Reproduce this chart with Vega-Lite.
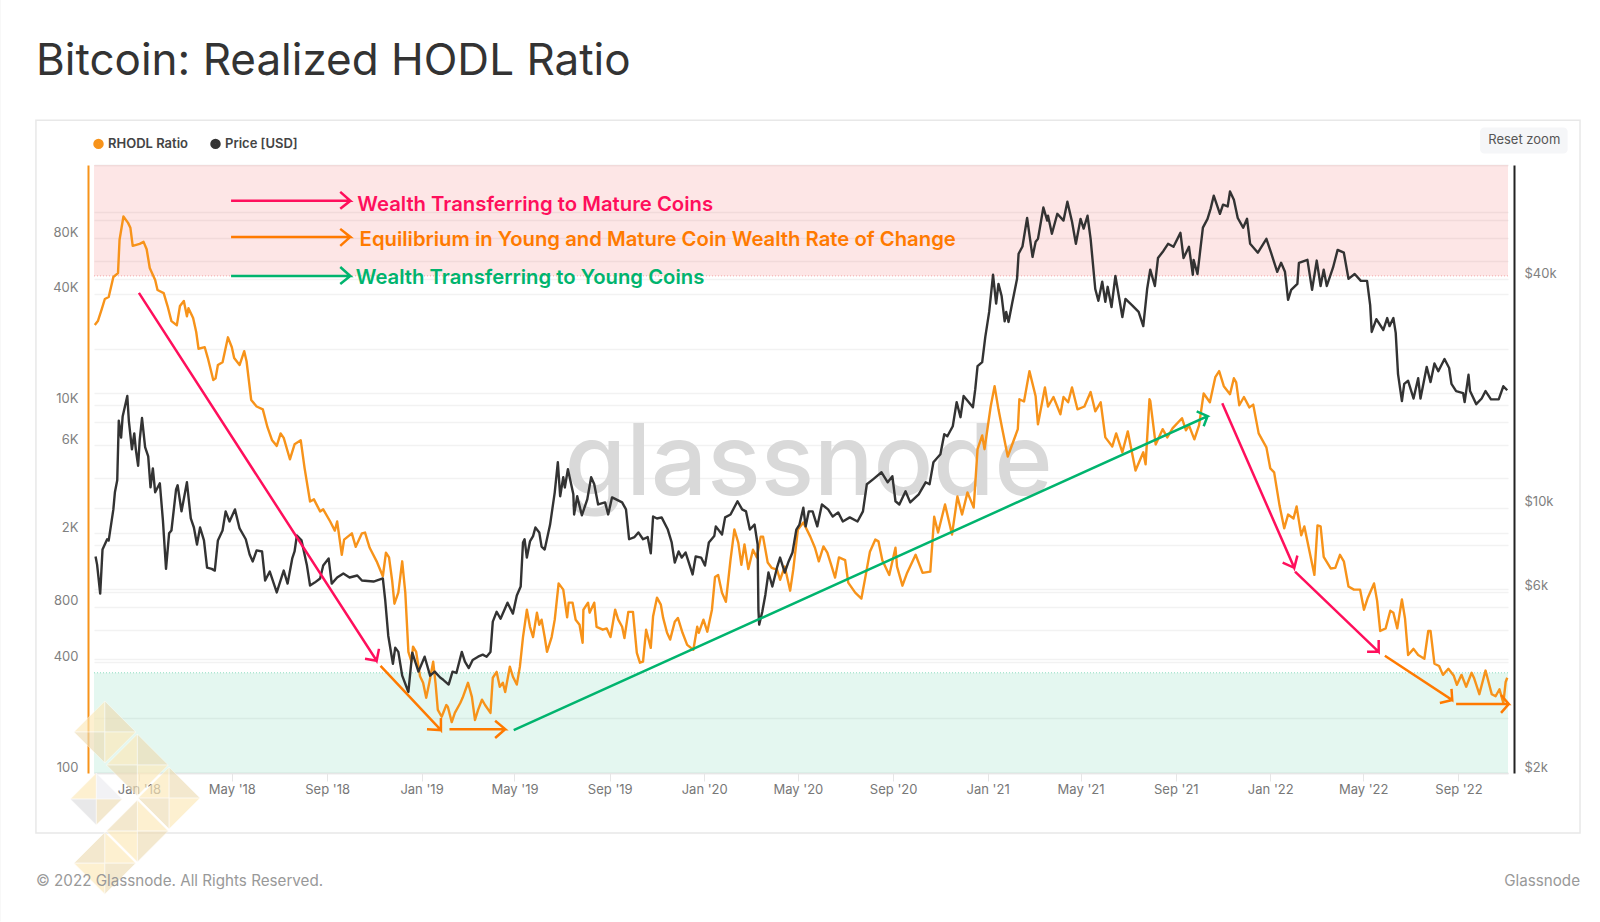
{
"$schema":"https://vega.github.io/schema/vega-lite/v6.json",
"width":1414,"height":608,"autosize":"none","padding":{"left":94,"top":165,"right":92,"bottom":149},"background":"#ffffff",
"title":{"text":"Bitcoin: Realized HODL Ratio","anchor":"start","frame":"group","dx":-58,"dy":120,"offset":0,"font":"Inter","fontSize":44,"fontWeight":400,"color":"#333333","baseline":"alphabetic"},
"config":{"view":{"stroke":null}},
"datasets":{
"rhodl":[
{"date":"2017-11-05","value":27040},{"date":"2017-11-09","value":28420},{"date":"2017-11-14","value":33000},{"date":"2017-11-18","value":37450},{"date":"2017-11-23","value":38400},{"date":"2017-11-29","value":49300},{"date":"2017-12-05","value":51800},{"date":"2017-12-07","value":78500},{"date":"2017-12-12","value":105000},{"date":"2017-12-18","value":97000},{"date":"2017-12-21","value":91200},{"date":"2017-12-24","value":72800},
{"date":"2018-01-02","value":74600},{"date":"2018-01-07","value":76500},{"date":"2018-01-11","value":69800},{"date":"2018-01-15","value":55200},{"date":"2018-01-22","value":47500},{"date":"2018-01-25","value":41900},{"date":"2018-02-02","value":40300},{"date":"2018-02-07","value":34300},{"date":"2018-02-12","value":28400},{"date":"2018-02-19","value":27000},{"date":"2018-02-23","value":34300},{"date":"2018-02-28","value":36500},{"date":"2018-03-04","value":30200},{"date":"2018-03-06","value":33400},{"date":"2018-03-12","value":29500},{"date":"2018-03-16","value":24800},{"date":"2018-03-19","value":20100},{"date":"2018-03-27","value":20500},{"date":"2018-03-31","value":17900},{"date":"2018-04-07","value":13600},{"date":"2018-04-10","value":13900},{"date":"2018-04-13","value":16400},{"date":"2018-04-19","value":17000},{"date":"2018-04-26","value":23200},{"date":"2018-05-01","value":20500},{"date":"2018-05-04","value":17900},{"date":"2018-05-11","value":16400},{"date":"2018-05-17","value":19500},{"date":"2018-05-20","value":17200},{"date":"2018-05-26","value":10600},{"date":"2018-06-02","value":9770},{"date":"2018-06-10","value":9430},{"date":"2018-06-16","value":7540},{"date":"2018-06-22","value":6400},{"date":"2018-06-28","value":5970},{"date":"2018-07-03","value":6980},{"date":"2018-07-07","value":6600},{"date":"2018-07-15","value":5050},{"date":"2018-07-21","value":6090},{"date":"2018-07-29","value":6400},{"date":"2018-08-03","value":4510},{"date":"2018-08-10","value":2980},{"date":"2018-08-15","value":3060},{"date":"2018-08-23","value":2630},{"date":"2018-08-27","value":2700},{"date":"2018-09-05","value":2320},{"date":"2018-09-11","value":2070},{"date":"2018-09-14","value":2320},{"date":"2018-09-20","value":1530},{"date":"2018-09-23","value":1850},{"date":"2018-10-03","value":2000},{"date":"2018-10-08","value":1690},{"date":"2018-10-16","value":2000},{"date":"2018-10-20","value":2020},{"date":"2018-10-26","value":1670},{"date":"2018-11-04","value":1410},{"date":"2018-11-12","value":1170},{"date":"2018-11-16","value":1570},{"date":"2018-11-20","value":1480},{"date":"2018-11-24","value":1110},{"date":"2018-11-27","value":830},{"date":"2018-12-02","value":953},{"date":"2018-12-07","value":1410},{"date":"2018-12-11","value":953},{"date":"2018-12-15","value":455},{"date":"2018-12-19","value":402},{"date":"2018-12-21","value":485},{"date":"2018-12-25","value":455},{"date":"2018-12-30","value":335},
{"date":"2019-01-03","value":309},{"date":"2019-01-07","value":256},{"date":"2019-01-11","value":309},{"date":"2019-01-16","value":402},{"date":"2019-01-19","value":309},{"date":"2019-01-22","value":220},{"date":"2019-01-27","value":202},{"date":"2019-02-02","value":234},{"date":"2019-02-04","value":228},{"date":"2019-02-09","value":189},{"date":"2019-02-13","value":212},{"date":"2019-02-20","value":240},{"date":"2019-02-23","value":256},{"date":"2019-03-02","value":309},{"date":"2019-03-07","value":259},{"date":"2019-03-11","value":194},{"date":"2019-03-15","value":220},{"date":"2019-03-20","value":250},{"date":"2019-03-24","value":234},{"date":"2019-03-31","value":212},{"date":"2019-04-03","value":329},{"date":"2019-04-08","value":354},{"date":"2019-04-12","value":294},{"date":"2019-04-16","value":309},{"date":"2019-04-19","value":275},{"date":"2019-04-25","value":378},{"date":"2019-04-29","value":333},{"date":"2019-05-04","value":302},{"date":"2019-05-08","value":378},{"date":"2019-05-12","value":547},{"date":"2019-05-17","value":770},{"date":"2019-05-21","value":622},{"date":"2019-05-25","value":547},{"date":"2019-05-30","value":742},{"date":"2019-06-02","value":638},{"date":"2019-06-05","value":680},{"date":"2019-06-09","value":547},{"date":"2019-06-12","value":455},{"date":"2019-06-18","value":547},{"date":"2019-06-22","value":680},{"date":"2019-06-27","value":1070},{"date":"2019-07-03","value":990},{"date":"2019-07-08","value":700},{"date":"2019-07-10","value":841},{"date":"2019-07-15","value":841},{"date":"2019-07-19","value":680},{"date":"2019-07-24","value":638},{"date":"2019-07-28","value":509},{"date":"2019-07-29","value":770},{"date":"2019-08-04","value":841},{"date":"2019-08-06","value":742},{"date":"2019-08-12","value":841},{"date":"2019-08-15","value":622},{"date":"2019-08-23","value":600},{"date":"2019-08-28","value":610},{"date":"2019-09-02","value":547},{"date":"2019-09-08","value":770},{"date":"2019-09-12","value":680},{"date":"2019-09-17","value":622},{"date":"2019-09-20","value":540},{"date":"2019-09-25","value":750},{"date":"2019-10-01","value":750},{"date":"2019-10-06","value":449},{"date":"2019-10-10","value":397},{"date":"2019-10-14","value":402},{"date":"2019-10-18","value":600},{"date":"2019-10-24","value":478},{"date":"2019-10-27","value":710},{"date":"2019-11-01","value":895},{"date":"2019-11-06","value":820},{"date":"2019-11-09","value":695},{"date":"2019-11-14","value":577},{"date":"2019-11-18","value":530},{"date":"2019-11-24","value":662},{"date":"2019-11-28","value":695},{"date":"2019-12-04","value":577},{"date":"2019-12-10","value":496},{"date":"2019-12-18","value":467},{"date":"2019-12-23","value":622},{"date":"2019-12-25","value":577},{"date":"2019-12-31","value":680},
{"date":"2020-01-05","value":585},{"date":"2020-01-11","value":770},{"date":"2020-01-15","value":1160},{"date":"2020-01-19","value":1190},{"date":"2020-01-24","value":953},{"date":"2020-01-29","value":850},{"date":"2020-02-04","value":1440},{"date":"2020-02-09","value":2100},{"date":"2020-02-14","value":1780},{"date":"2020-02-18","value":1350},{"date":"2020-02-22","value":1740},{"date":"2020-02-27","value":1280},{"date":"2020-03-04","value":1630},{"date":"2020-03-09","value":1480},{"date":"2020-03-14","value":1920},{"date":"2020-03-17","value":1920},{"date":"2020-03-23","value":1390},{"date":"2020-03-28","value":1300},{"date":"2020-04-04","value":1270},{"date":"2020-04-08","value":1120},{"date":"2020-04-14","value":1320},{"date":"2020-04-21","value":977},{"date":"2020-04-25","value":1270},{"date":"2020-05-01","value":2100},{"date":"2020-05-08","value":2290},{"date":"2020-05-17","value":1920},{"date":"2020-05-23","value":1670},{"date":"2020-05-28","value":1410},{"date":"2020-06-03","value":1700},{"date":"2020-06-08","value":1570},{"date":"2020-06-13","value":1350},{"date":"2020-06-18","value":1150},{"date":"2020-06-23","value":1480},{"date":"2020-07-01","value":1430},{"date":"2020-07-05","value":1080},{"date":"2020-07-14","value":953},{"date":"2020-07-22","value":885},{"date":"2020-07-27","value":1150},{"date":"2020-08-02","value":1590},{"date":"2020-08-09","value":1850},{"date":"2020-08-13","value":1810},{"date":"2020-08-18","value":1430},{"date":"2020-08-27","value":1190},{"date":"2020-09-04","value":1670},{"date":"2020-09-06","value":1320},{"date":"2020-09-13","value":1040},{"date":"2020-09-19","value":1220},{"date":"2020-09-30","value":1530},{"date":"2020-10-09","value":1220},{"date":"2020-10-19","value":1240},{"date":"2020-10-24","value":2460},{"date":"2020-10-29","value":2020},{"date":"2020-11-07","value":2870},{"date":"2020-11-16","value":1970},{"date":"2020-11-23","value":3170},{"date":"2020-11-29","value":2530},{"date":"2020-12-06","value":3340},{"date":"2020-12-14","value":2760},{"date":"2020-12-19","value":5730},{"date":"2020-12-25","value":6800},{"date":"2020-12-28","value":5730},
{"date":"2021-01-05","value":9800},{"date":"2021-01-10","value":12600},{"date":"2021-01-15","value":9430},{"date":"2021-01-20","value":7360},{"date":"2021-01-27","value":5230},{"date":"2021-02-09","value":7360},{"date":"2021-02-11","value":10700},{"date":"2021-02-17","value":10400},{"date":"2021-02-24","value":15200},{"date":"2021-03-04","value":11100},{"date":"2021-03-07","value":7820},{"date":"2021-03-16","value":12400},{"date":"2021-03-20","value":9770},{"date":"2021-03-27","value":11000},{"date":"2021-04-05","value":8860},{"date":"2021-04-09","value":11000},{"date":"2021-04-15","value":10300},{"date":"2021-04-20","value":12400},{"date":"2021-04-27","value":9430},{"date":"2021-05-06","value":9770},{"date":"2021-05-14","value":11700},{"date":"2021-05-20","value":9200},{"date":"2021-05-27","value":10300},{"date":"2021-06-02","value":6640},{"date":"2021-06-11","value":5930},{"date":"2021-06-16","value":6980},{"date":"2021-06-24","value":5510},{"date":"2021-07-01","value":7160},{"date":"2021-07-11","value":4390},{"date":"2021-07-21","value":5510},{"date":"2021-07-24","value":4740},{"date":"2021-07-29","value":10700},{"date":"2021-07-30","value":10500},{"date":"2021-08-06","value":6080},{"date":"2021-08-15","value":7360},{"date":"2021-08-21","value":6640},{"date":"2021-08-28","value":7450},{"date":"2021-09-09","value":8440},{"date":"2021-09-14","value":7260},{"date":"2021-09-18","value":7720},{"date":"2021-09-25","value":6480},{"date":"2021-10-01","value":7720},{"date":"2021-10-07","value":11500},{"date":"2021-10-15","value":10300},{"date":"2021-10-22","value":14100},{"date":"2021-10-27","value":15200},{"date":"2021-11-02","value":12600},{"date":"2021-11-10","value":11400},{"date":"2021-11-15","value":13900},{"date":"2021-11-18","value":13200},{"date":"2021-11-22","value":9920},{"date":"2021-11-28","value":11000},{"date":"2021-12-05","value":9660},{"date":"2021-12-10","value":10000},{"date":"2021-12-17","value":6980},{"date":"2021-12-27","value":5860},
{"date":"2022-01-01","value":4510},{"date":"2022-01-06","value":4290},{"date":"2022-01-13","value":2830},{"date":"2022-01-19","value":2130},{"date":"2022-01-24","value":2530},{"date":"2022-01-31","value":2410},{"date":"2022-02-04","value":2800},{"date":"2022-02-10","value":1950},{"date":"2022-02-14","value":2180},{"date":"2022-02-27","value":1190},{"date":"2022-03-03","value":2210},{"date":"2022-03-07","value":2180},{"date":"2022-03-11","value":1490},{"date":"2022-03-20","value":1290},{"date":"2022-03-26","value":1300},{"date":"2022-04-01","value":1530},{"date":"2022-04-06","value":1410},{"date":"2022-04-12","value":1030},{"date":"2022-04-19","value":990},{"date":"2022-04-27","value":990},{"date":"2022-05-02","value":770},{"date":"2022-05-07","value":895},{"date":"2022-05-15","value":1070},{"date":"2022-05-19","value":860},{"date":"2022-05-23","value":590},{"date":"2022-05-30","value":610},{"date":"2022-06-05","value":760},{"date":"2022-06-09","value":742},{"date":"2022-06-14","value":610},{"date":"2022-06-20","value":875},{"date":"2022-06-24","value":690},{"date":"2022-06-28","value":437},{"date":"2022-07-05","value":472},{"date":"2022-07-11","value":437},{"date":"2022-07-19","value":417},{"date":"2022-07-24","value":590},{"date":"2022-07-27","value":590},{"date":"2022-08-01","value":392},{"date":"2022-08-07","value":381},{"date":"2022-08-12","value":341},{"date":"2022-08-19","value":368},{"date":"2022-08-26","value":337},{"date":"2022-08-30","value":301},{"date":"2022-09-05","value":341},{"date":"2022-09-11","value":294},{"date":"2022-09-18","value":350},{"date":"2022-09-21","value":329},{"date":"2022-09-28","value":268},{"date":"2022-10-06","value":360},{"date":"2022-10-14","value":268},{"date":"2022-10-19","value":261},{"date":"2022-10-24","value":285},{"date":"2022-10-29","value":240},{"date":"2022-11-01","value":312},{"date":"2022-11-03","value":329}
],
"price":[
{"date":"2017-11-06","price":7440},{"date":"2017-11-08","price":7080},{"date":"2017-11-12","price":5940},{"date":"2017-11-15","price":7760},{"date":"2017-11-21","price":8260},{"date":"2017-11-23","price":8200},{"date":"2017-11-29","price":9900},{"date":"2017-12-01","price":10980},{"date":"2017-12-04","price":11810},{"date":"2017-12-06","price":16950},{"date":"2017-12-09","price":15300},{"date":"2017-12-11","price":17400},{"date":"2017-12-17","price":19700},{"date":"2017-12-19","price":16950},{"date":"2017-12-23","price":14250},{"date":"2017-12-26","price":15700},{"date":"2017-12-28","price":14250},{"date":"2017-12-31","price":12900},
{"date":"2018-01-02","price":15060},{"date":"2018-01-05","price":17230},{"date":"2018-01-09","price":14450},{"date":"2018-01-13","price":13650},{"date":"2018-01-16","price":11320},{"date":"2018-01-19","price":12700},{"date":"2018-01-22","price":10980},{"date":"2018-01-28","price":11600},{"date":"2018-02-01","price":9260},{"date":"2018-02-05","price":6900},{"date":"2018-02-09","price":8560},{"date":"2018-02-12","price":8710},{"date":"2018-02-18","price":11180},{"date":"2018-02-20","price":11460},{"date":"2018-02-25","price":9780},{"date":"2018-03-04","price":11670},{"date":"2018-03-09","price":9370},{"date":"2018-03-13","price":8870},{"date":"2018-03-17","price":8000},{"date":"2018-03-21","price":8870},{"date":"2018-03-26","price":8200},{"date":"2018-03-30","price":6950},{"date":"2018-04-05","price":6900},{"date":"2018-04-09","price":6830},{"date":"2018-04-13","price":8200},{"date":"2018-04-19","price":8710},{"date":"2018-04-23","price":9780},{"date":"2018-04-28","price":9200},{"date":"2018-05-05","price":9900},{"date":"2018-05-11","price":8820},{"date":"2018-05-19","price":8260},{"date":"2018-05-24","price":7530},{"date":"2018-05-28","price":7220},{"date":"2018-06-02","price":7720},{"date":"2018-06-09","price":7670},{"date":"2018-06-13","price":6430},{"date":"2018-06-19","price":6790},{"date":"2018-06-28","price":5980},{"date":"2018-07-05","price":6630},{"date":"2018-07-07","price":6830},{"date":"2018-07-12","price":6310},{"date":"2018-07-18","price":7350},{"date":"2018-07-21","price":7670},{"date":"2018-07-24","price":8450},{"date":"2018-07-30","price":8200},{"date":"2018-08-06","price":7040},{"date":"2018-08-10","price":6240},{"date":"2018-08-16","price":6350},{"date":"2018-08-23","price":6510},{"date":"2018-08-27","price":7040},{"date":"2018-09-03","price":7350},{"date":"2018-09-07","price":6310},{"date":"2018-09-14","price":6550},{"date":"2018-09-22","price":6710},{"date":"2018-09-30","price":6550},{"date":"2018-10-10","price":6630},{"date":"2018-10-16","price":6430},{"date":"2018-10-31","price":6390},{"date":"2018-11-12","price":6510},{"date":"2018-11-15","price":5730},{"date":"2018-11-19","price":4600},{"date":"2018-11-25","price":3880},{"date":"2018-11-28","price":4280},{"date":"2018-12-02","price":4170},{"date":"2018-12-07","price":3610},{"date":"2018-12-15","price":3270},{"date":"2018-12-20","price":4150},{"date":"2018-12-28","price":3700},
{"date":"2019-01-05","price":4050},{"date":"2019-01-12","price":3610},{"date":"2019-01-18","price":3700},{"date":"2019-01-25","price":3570},{"date":"2019-01-29","price":3520},{"date":"2019-02-05","price":3420},{"date":"2019-02-10","price":3700},{"date":"2019-02-15","price":3670},{"date":"2019-02-22","price":4170},{"date":"2019-02-26","price":3930},{"date":"2019-03-03","price":3780},{"date":"2019-03-08","price":3970},{"date":"2019-03-15","price":4050},{"date":"2019-03-21","price":4100},{"date":"2019-03-26","price":4050},{"date":"2019-03-31","price":4170},{"date":"2019-04-03","price":5010},{"date":"2019-04-08","price":5320},{"date":"2019-04-13","price":5100},{"date":"2019-04-22","price":5620},{"date":"2019-04-29","price":5260},{"date":"2019-05-04","price":5870},{"date":"2019-05-09","price":6200},{"date":"2019-05-12","price":8100},{"date":"2019-05-14","price":8260},{"date":"2019-05-17","price":7390},{"date":"2019-05-21","price":8150},{"date":"2019-05-25","price":8420},{"date":"2019-05-28","price":8870},{"date":"2019-06-02","price":8610},{"date":"2019-06-05","price":7900},{"date":"2019-06-09","price":7760},{"date":"2019-06-16","price":9030},{"date":"2019-06-22","price":10980},{"date":"2019-06-26","price":13180},{"date":"2019-06-29","price":10720},{"date":"2019-07-03","price":12040},{"date":"2019-07-05","price":11310},{"date":"2019-07-09","price":12630},{"date":"2019-07-16","price":10850},{"date":"2019-07-17","price":9600},{"date":"2019-07-21","price":10720},{"date":"2019-07-27","price":9550},{"date":"2019-08-03","price":10520},{"date":"2019-08-08","price":12040},{"date":"2019-08-12","price":11530},{"date":"2019-08-17","price":10200},{"date":"2019-08-26","price":10330},{"date":"2019-08-30","price":9600},{"date":"2019-09-04","price":10650},{"date":"2019-09-17","price":10330},{"date":"2019-09-22","price":9900},{"date":"2019-09-26","price":8260},{"date":"2019-10-03","price":8370},{"date":"2019-10-08","price":8610},{"date":"2019-10-14","price":8260},{"date":"2019-10-20","price":8370},{"date":"2019-10-24","price":7580},{"date":"2019-10-27","price":9480},{"date":"2019-11-01","price":9370},{"date":"2019-11-07","price":9430},{"date":"2019-11-15","price":8760},{"date":"2019-11-20","price":8100},{"date":"2019-11-24","price":7170},{"date":"2019-11-29","price":7670},{"date":"2019-12-03","price":7390},{"date":"2019-12-08","price":7620},{"date":"2019-12-17","price":6670},{"date":"2019-12-21","price":7440},{"date":"2019-12-28","price":7390},
{"date":"2020-01-02","price":7040},{"date":"2020-01-07","price":8100},{"date":"2020-01-14","price":8420},{"date":"2020-01-16","price":8930},{"date":"2020-01-24","price":8500},{"date":"2020-01-28","price":9430},{"date":"2020-02-04","price":9600},{"date":"2020-02-13","price":10400},{"date":"2020-02-19","price":9900},{"date":"2020-02-24","price":9780},{"date":"2020-02-29","price":8760},{"date":"2020-03-06","price":9030},{"date":"2020-03-10","price":8000},{"date":"2020-03-11","price":5390},{"date":"2020-03-12","price":4920},{"date":"2020-03-16","price":5320},{"date":"2020-03-20","price":5900},{"date":"2020-03-24","price":6750},{"date":"2020-03-29","price":6200},{"date":"2020-04-04","price":6950},{"date":"2020-04-08","price":7390},{"date":"2020-04-14","price":6750},{"date":"2020-04-19","price":7220},{"date":"2020-04-24","price":7620},{"date":"2020-04-29","price":8760},{"date":"2020-05-03","price":9030},{"date":"2020-05-08","price":10000},{"date":"2020-05-11","price":8930},{"date":"2020-05-15","price":9780},{"date":"2020-05-20","price":9780},{"date":"2020-05-26","price":8930},{"date":"2020-06-01","price":10200},{"date":"2020-06-09","price":9900},{"date":"2020-06-15","price":9480},{"date":"2020-06-22","price":9720},{"date":"2020-06-28","price":9200},{"date":"2020-07-07","price":9430},{"date":"2020-07-17","price":9200},{"date":"2020-07-24","price":9780},{"date":"2020-07-29","price":11530},{"date":"2020-08-06","price":11880},{"date":"2020-08-17","price":12400},{"date":"2020-08-25","price":11670},{"date":"2020-08-31","price":12100},{"date":"2020-09-04","price":10400},{"date":"2020-09-09","price":10200},{"date":"2020-09-17","price":11050},{"date":"2020-09-23","price":10330},{"date":"2020-10-04","price":10850},{"date":"2020-10-13","price":11670},{"date":"2020-10-18","price":11530},{"date":"2020-10-23","price":13180},{"date":"2020-11-01","price":13830},{"date":"2020-11-06","price":15620},{"date":"2020-11-10","price":15430},{"date":"2020-11-17","price":16400},{"date":"2020-11-22","price":18980},{"date":"2020-11-27","price":17320},{"date":"2020-12-01","price":19700},{"date":"2020-12-13","price":18400},{"date":"2020-12-16","price":20500},{"date":"2020-12-19","price":23600},{"date":"2020-12-25","price":24200},{"date":"2020-12-29","price":28200},
{"date":"2021-01-03","price":32810},{"date":"2021-01-08","price":41100},{"date":"2021-01-12","price":34500},{"date":"2021-01-15","price":38900},{"date":"2021-01-19","price":36200},{"date":"2021-01-23","price":31000},{"date":"2021-01-25","price":32800},{"date":"2021-01-28","price":30870},{"date":"2021-02-02","price":34860},{"date":"2021-02-08","price":40100},{"date":"2021-02-10","price":46700},{"date":"2021-02-15","price":48800},{"date":"2021-02-21","price":58000},{"date":"2021-02-28","price":45800},{"date":"2021-03-04","price":50200},{"date":"2021-03-07","price":51100},{"date":"2021-03-14","price":61800},{"date":"2021-03-19","price":57100},{"date":"2021-03-20","price":58800},{"date":"2021-03-25","price":52700},{"date":"2021-04-01","price":59500},{"date":"2021-04-09","price":57100},{"date":"2021-04-14","price":64050},{"date":"2021-04-20","price":56700},{"date":"2021-04-25","price":49600},{"date":"2021-05-01","price":57700},{"date":"2021-05-05","price":54400},{"date":"2021-05-10","price":58800},{"date":"2021-05-14","price":51100},{"date":"2021-05-20","price":37700},{"date":"2021-05-24","price":35100},{"date":"2021-05-29","price":39400},{"date":"2021-06-02","price":34900},{"date":"2021-06-05","price":38200},{"date":"2021-06-10","price":33800},{"date":"2021-06-15","price":40800},{"date":"2021-06-24","price":31800},{"date":"2021-06-28","price":35500},{"date":"2021-07-07","price":34100},{"date":"2021-07-15","price":32800},{"date":"2021-07-21","price":30100},{"date":"2021-07-26","price":37700},{"date":"2021-07-30","price":42400},{"date":"2021-08-05","price":38400},{"date":"2021-08-09","price":45500},{"date":"2021-08-16","price":47500},{"date":"2021-08-22","price":49600},{"date":"2021-08-29","price":48700},{"date":"2021-09-07","price":53000},{"date":"2021-09-11","price":45500},{"date":"2021-09-18","price":48700},{"date":"2021-09-23","price":41100},{"date":"2021-09-24","price":45000},{"date":"2021-09-29","price":41300},{"date":"2021-10-06","price":54700},{"date":"2021-10-12","price":57700},{"date":"2021-10-16","price":61400},{"date":"2021-10-20","price":66400},{"date":"2021-10-28","price":59500},{"date":"2021-11-01","price":62900},{"date":"2021-11-07","price":62200},{"date":"2021-11-10","price":68100},{"date":"2021-11-15","price":64800},{"date":"2021-11-20","price":58000},{"date":"2021-11-27","price":54700},{"date":"2021-12-02","price":57700},{"date":"2021-12-06","price":49600},{"date":"2021-12-16","price":47000},{"date":"2021-12-27","price":51100},
{"date":"2022-01-02","price":47000},{"date":"2022-01-10","price":41840},{"date":"2022-01-15","price":44200},{"date":"2022-01-20","price":41840},{"date":"2022-01-24","price":35300},{"date":"2022-01-28","price":37500},{"date":"2022-02-05","price":38900},{"date":"2022-02-07","price":44200},{"date":"2022-02-18","price":45000},{"date":"2022-02-24","price":37500},{"date":"2022-03-02","price":44800},{"date":"2022-03-07","price":38400},{"date":"2022-03-11","price":42400},{"date":"2022-03-15","price":38400},{"date":"2022-03-23","price":42900},{"date":"2022-03-29","price":47800},{"date":"2022-04-06","price":47000},{"date":"2022-04-12","price":40100},{"date":"2022-04-20","price":41300},{"date":"2022-04-28","price":39600},{"date":"2022-05-06","price":39600},{"date":"2022-05-10","price":34200},{"date":"2022-05-12","price":29050},{"date":"2022-05-18","price":31400},{"date":"2022-05-27","price":29400},{"date":"2022-06-01","price":31600},{"date":"2022-06-04","price":30100},{"date":"2022-06-09","price":31600},{"date":"2022-06-12","price":28900},{"date":"2022-06-15","price":22500},{"date":"2022-06-20","price":19100},{"date":"2022-06-23","price":21200},{"date":"2022-06-28","price":21600},{"date":"2022-07-05","price":19400},{"date":"2022-07-11","price":21950},{"date":"2022-07-14","price":19400},{"date":"2022-07-22","price":23500},{"date":"2022-07-27","price":21430},{"date":"2022-08-01","price":24000},{"date":"2022-08-06","price":22900},{"date":"2022-08-14","price":24650},{"date":"2022-08-20","price":23350},{"date":"2022-08-23","price":21200},{"date":"2022-08-29","price":20300},{"date":"2022-09-07","price":20050},{"date":"2022-09-09","price":18980},{"date":"2022-09-14","price":22400},{"date":"2022-09-16","price":20300},{"date":"2022-09-24","price":18750},{"date":"2022-10-01","price":19400},{"date":"2022-10-06","price":20300},{"date":"2022-10-13","price":19300},{"date":"2022-10-23","price":19300},{"date":"2022-10-29","price":20900},{"date":"2022-11-03","price":20400}
],
"arrowsPink":[
{"arrow":"key","seq":1,"date":"2018-04-30","value":127800},{"arrow":"key","seq":2,"date":"2018-10-01","value":127800},{"arrow":"key","seq":3,"date":"2018-09-18","value":143000},{"arrow":"key","seq":4,"date":"2018-10-01","value":127800},{"arrow":"key","seq":5,"date":"2018-09-18","value":115600},
{"arrow":"a","seq":1,"date":"2018-01-01","value":40400},{"arrow":"a","seq":2,"date":"2018-11-04","value":407},{"arrow":"a","seq":3,"date":"2018-11-07","value":472},{"arrow":"a","seq":4,"date":"2018-11-04","value":407},{"arrow":"a","seq":5,"date":"2018-10-20","value":417},
{"arrow":"b","seq":1,"date":"2021-10-31","value":10170},{"arrow":"b","seq":2,"date":"2022-02-01","value":1300},{"arrow":"b","seq":3,"date":"2022-02-05","value":1515},{"arrow":"b","seq":4,"date":"2022-02-01","value":1300},{"arrow":"b","seq":5,"date":"2022-01-17","value":1388},
{"arrow":"c","seq":1,"date":"2022-02-02","value":1240},{"arrow":"c","seq":2,"date":"2022-05-21","value":455},{"arrow":"c","seq":3,"date":"2022-05-21","value":528},{"arrow":"c","seq":4,"date":"2022-05-21","value":455},{"arrow":"c","seq":5,"date":"2022-05-06","value":455}
],
"arrowsOrange":[
{"arrow":"key","seq":1,"date":"2018-04-30","value":81400},{"arrow":"key","seq":2,"date":"2018-10-01","value":81400},{"arrow":"key","seq":3,"date":"2018-09-18","value":90000},{"arrow":"key","seq":4,"date":"2018-10-01","value":81400},{"arrow":"key","seq":5,"date":"2018-09-18","value":72800},
{"arrow":"a","seq":1,"date":"2018-11-09","value":382},{"arrow":"a","seq":2,"date":"2019-01-26","value":171},{"arrow":"a","seq":3,"date":"2019-01-26","value":199},{"arrow":"a","seq":4,"date":"2019-01-26","value":171},{"arrow":"a","seq":5,"date":"2019-01-08","value":173},
{"arrow":"b","seq":1,"date":"2019-02-06","value":173},{"arrow":"b","seq":2,"date":"2019-04-19","value":173},{"arrow":"b","seq":3,"date":"2019-04-06","value":192},{"arrow":"b","seq":4,"date":"2019-04-19","value":173},{"arrow":"b","seq":5,"date":"2019-04-06","value":155},
{"arrow":"c","seq":1,"date":"2022-05-29","value":433},{"arrow":"c","seq":2,"date":"2022-08-24","value":249},{"arrow":"c","seq":3,"date":"2022-08-23","value":286},{"arrow":"c","seq":4,"date":"2022-08-24","value":249},{"arrow":"c","seq":5,"date":"2022-08-08","value":240},
{"arrow":"d","seq":1,"date":"2022-08-29","value":237},{"arrow":"d","seq":2,"date":"2022-11-05","value":237},{"arrow":"d","seq":3,"date":"2022-10-26","value":265},{"arrow":"d","seq":4,"date":"2022-11-05","value":237},{"arrow":"d","seq":5,"date":"2022-10-26","value":212}
],
"arrowsGreen":[
{"arrow":"key","seq":1,"date":"2018-04-30","value":49950},{"arrow":"key","seq":2,"date":"2018-10-01","value":49950},{"arrow":"key","seq":3,"date":"2018-09-18","value":55900},{"arrow":"key","seq":4,"date":"2018-10-01","value":49950},{"arrow":"key","seq":5,"date":"2018-09-18","value":45180},
{"arrow":"a","seq":1,"date":"2019-04-30","value":171},{"arrow":"a","seq":2,"date":"2021-10-12","value":8650},{"arrow":"a","seq":3,"date":"2021-09-28","value":9200},{"arrow":"a","seq":4,"date":"2021-10-12","value":8650},{"arrow":"a","seq":5,"date":"2021-10-07","value":7630}
],
"logoBig":[
{"date":"2017-11-18","value":167,"quad":"nw","tone":"light"},{"date":"2017-11-18","value":167,"quad":"ne","tone":"tan"},{"date":"2017-11-18","value":167,"quad":"sw","tone":"tan"},{"date":"2017-11-18","value":167,"quad":"se","tone":"light"},
{"date":"2017-12-30","value":110.5,"quad":"nw","tone":"light"},{"date":"2017-12-30","value":110.5,"quad":"ne","tone":"tan"},{"date":"2017-12-30","value":110.5,"quad":"sw","tone":"tan"},{"date":"2017-12-30","value":110.5,"quad":"se","tone":"light"},
{"date":"2018-02-09","value":73.1,"quad":"nw","tone":"light"},{"date":"2018-02-09","value":73.1,"quad":"ne","tone":"tan"},{"date":"2018-02-09","value":73.1,"quad":"sw","tone":"tan"},{"date":"2018-02-09","value":73.1,"quad":"se","tone":"light"},
{"date":"2017-12-30","value":48.4,"quad":"nw","tone":"tan"},{"date":"2017-12-30","value":48.4,"quad":"ne","tone":"light"},{"date":"2017-12-30","value":48.4,"quad":"sw","tone":"light"},{"date":"2017-12-30","value":48.4,"quad":"se","tone":"tan"},
{"date":"2017-11-18","value":32.4,"quad":"nw","tone":"tan"},{"date":"2017-11-18","value":32.4,"quad":"ne","tone":"light"},{"date":"2017-11-18","value":32.4,"quad":"sw","tone":"light"},{"date":"2017-11-18","value":32.4,"quad":"se","tone":"tan"}
],
"logoSmall":[
{"date":"2017-11-07","value":72.2,"quad":"nw","tone":"light"},{"date":"2017-11-07","value":72.2,"quad":"ne","tone":"pale"},{"date":"2017-11-07","value":72.2,"quad":"sw","tone":"grey"},{"date":"2017-11-07","value":72.2,"quad":"se","tone":"tan"}
]
},
"encoding":{
"x":{"field":"date","type":"temporal","title":null,
"scale":{"domain":["2017-11-04","2022-11-04"],"nice":false},
"axis":{"values":[{"year":2018,"month":1,"date":1},{"year":2018,"month":5,"date":1},{"year":2018,"month":9,"date":1},{"year":2019,"month":1,"date":1},{"year":2019,"month":5,"date":1},{"year":2019,"month":9,"date":1},{"year":2020,"month":1,"date":1},{"year":2020,"month":5,"date":1},{"year":2020,"month":9,"date":1},{"year":2021,"month":1,"date":1},{"year":2021,"month":5,"date":1},{"year":2021,"month":9,"date":1},{"year":2022,"month":1,"date":1},{"year":2022,"month":5,"date":1},{"year":2022,"month":9,"date":1}],
"format":"%b '%y","grid":false,"labelFont":"Inter","labelFontSize":13,"labelColor":"#777777","labelPadding":2,"labelOverlap":false,"labelFlush":false,"tickColor":"#e6e6e6","tickSize":8,"domainColor":"#e6e6e6","domainWidth":1.5}},
"y":{"field":"value","type":"quantitative","title":null,
"scale":{"type":"log","domain":[100,200000],"nice":false},
"axis":{"orient":"left","offset":6,"values":[100,200,400,600,800,1000,2000,4000,6000,8000,10000,20000,40000,60000,80000,100000,200000],
"labelExpr":"indexof([100,400,800,2000,6000,10000,40000,80000],datum.value)<0?'':(datum.value>=1000?(datum.value/1000)+'K':''+datum.value)",
"labelFont":"Inter","labelFontSize":13,"labelColor":"#808080","labelOffset":-6,"labelPadding":10,"labelOverlap":false,"labelFlush":false,"ticks":false,"domainColor":"#f7931a","domainWidth":2,"grid":true,"gridColor":"#f2f2f2","gridWidth":1.5}}
},
"layer":[
{"layer":[
{"data":{"values":[{"date":"2017-07-05","value":15.6,"value2":1580000}]},"mark":{"type":"rule","color":"#e5e5e5","strokeWidth":1.5},"encoding":{"y2":{"field":"value2"}}},
{"data":{"values":[{"date":"2017-08-21","date2":"2023-02-05","value":47.2,"value2":349500}]},"mark":{"type":"rect","fill":"transparent","stroke":"#e8e8e8","strokeWidth":1.5},"encoding":{"x2":{"field":"date2"},"y2":{"field":"value2"}}},
{"data":{"values":[{"date":"2017-11-04","date2":"2022-11-04","value":50000,"value2":200000}]},"mark":{"type":"rect","fill":"#f05050","opacity":0.14},"encoding":{"x2":{"field":"date2"},"y2":{"field":"value2"}}},
{"data":{"values":[{"date":"2017-11-04","date2":"2022-11-04","value":100,"value2":350}]},"mark":{"type":"rect","fill":"#00b070","opacity":0.105},"encoding":{"x2":{"field":"date2"},"y2":{"field":"value2"}}},
{"data":{"values":[{"date":"2017-11-04","date2":"2022-11-04","value":50000}]},"mark":{"type":"rule","color":"#f3a9a9","strokeWidth":1,"strokeDash":[1,2]},"encoding":{"x2":{"field":"date2"}}},
{"data":{"values":[{"date":"2017-11-04","date2":"2022-11-04","value":350}]},"mark":{"type":"rule","color":"#8fdcc0","strokeWidth":1,"strokeDash":[1,2]},"encoding":{"x2":{"field":"date2"}}},
{"data":{"values":[{"date":"2019-07-05","value":3250,"label":"glassnode"}]},"mark":{"type":"text","font":"Inter","fontSize":99,"fontWeight":500,"align":"left","baseline":"alphabetic","color":"#d9d9d9"},"encoding":{"text":{"field":"label"}}},
{"data":{"name":"rhodl"},"mark":{"type":"line","strokeWidth":2.4,"strokeJoin":"round"},
"encoding":{"color":{"datum":"RHODL Ratio","type":"nominal","scale":{"domain":["RHODL Ratio","Price [USD]"],"range":["#f7931a","#333333"]},
"legend":{"title":null,"orient":"none","legendX":-2,"legendY":-28,"direction":"horizontal","columns":2,"columnPadding":14,"symbolType":"circle","symbolSize":30,"symbolStrokeWidth":5,"symbolOpacity":1,"labelFont":"Inter","labelFontSize":13,"labelFontWeight":600,"labelColor":"#444444","labelOffset":3}}}}
]},
{"data":{"name":"price"},"mark":{"type":"line","strokeWidth":2.4,"strokeJoin":"round"},
"encoding":{
"y":{"field":"price","type":"quantitative","title":null,"scale":{"type":"log","domain":[2000,80000],"nice":false},
"axis":{"orient":"right","offset":6,"values":[2000,4000,6000,8000,10000,20000,40000,60000,80000],
"labelExpr":"indexof([2000,6000,10000,40000],datum.value)<0?'':'$'+(datum.value/1000)+'k'",
"labelFont":"Inter","labelFontSize":13,"labelColor":"#808080","labelOffset":-6,"labelPadding":10,"labelOverlap":false,"labelFlush":false,"ticks":false,"domainColor":"#222222","domainWidth":2,"grid":true,"gridColor":"#f2f2f2","gridWidth":1.5}},
"color":{"datum":"Price [USD]","type":"nominal"}}},
{"encoding":{"y":{"field":"value","type":"quantitative","title":null,"scale":{"type":"log","domain":[100,200000],"nice":false},"axis":null}},
"layer":[
{"data":{"name":"arrowsPink"},"mark":{"type":"line","color":"#ff0f5c","strokeWidth":2.5,"strokeJoin":"miter"},"encoding":{"detail":{"field":"arrow"},"order":{"field":"seq"}}},
{"data":{"name":"arrowsOrange"},"mark":{"type":"line","color":"#ff7a00","strokeWidth":2.5,"strokeJoin":"miter"},"encoding":{"detail":{"field":"arrow"},"order":{"field":"seq"}}},
{"data":{"name":"arrowsGreen"},"mark":{"type":"line","color":"#00b46e","strokeWidth":2.5,"strokeJoin":"miter"},"encoding":{"detail":{"field":"arrow"},"order":{"field":"seq"}}},
{"data":{"values":[{"date":"2018-10-10","value":120800,"label":"Wealth Transferring to Mature Coins"}]},"mark":{"type":"text","font":"Inter","fontSize":20.3,"fontWeight":600,"align":"left","baseline":"middle","color":"#ff0f5c"},"encoding":{"text":{"field":"label"}}},
{"data":{"values":[{"date":"2018-10-13","value":78400,"label":"Equilibrium in Young and Mature Coin Wealth Rate of Change"}]},"mark":{"type":"text","font":"Inter","fontSize":20.3,"fontWeight":600,"align":"left","baseline":"middle","color":"#ff7a00"},"encoding":{"text":{"field":"label"}}},
{"data":{"values":[{"date":"2018-10-08","value":48700,"label":"Wealth Transferring to Young Coins"}]},"mark":{"type":"text","font":"Inter","fontSize":20.3,"fontWeight":600,"align":"left","baseline":"middle","color":"#00b46e"},"encoding":{"text":{"field":"label"}}},
{"data":{"name":"logoBig"},"mark":{"type":"point","filled":true,"size":3844,"opacity":0.65,"stroke":"#ffffff","strokeWidth":0.6},"encoding":{"shape":{"field":"quad","type":"nominal","legend":null,"scale":{"domain":["nw","ne","sw","se"],"range":["M0,-1L-1,0L0,0Z","M0,-1L1,0L0,0Z","M-1,0L0,1L0,0Z","M1,0L0,1L0,0Z"]}},"fill":{"field":"tone","type":"nominal","legend":null,"scale":{"domain":["light","tan","pale","grey"],"range":["#fde9b8","#eddcb4","#ececf0","#dcdcde"]}}}},
{"data":{"name":"logoSmall"},"mark":{"type":"point","filled":true,"size":2704,"opacity":0.65,"stroke":"#ffffff","strokeWidth":0.6},"encoding":{"shape":{"field":"quad","type":"nominal","legend":null,"scale":{"domain":["nw","ne","sw","se"],"range":["M0,-1L-1,0L0,0Z","M0,-1L1,0L0,0Z","M-1,0L0,1L0,0Z","M1,0L0,1L0,0Z"]}},"fill":{"field":"tone","type":"nominal","legend":null,"scale":{"domain":["light","tan","pale","grey"],"range":["#fde9b8","#eddcb4","#ececf0","#dcdcde"]}}}},
{"data":{"values":[{"date":"2022-09-29","date2":"2023-01-20","value":231000,"value2":320000}]},"mark":{"type":"rect","fill":"#f5f6f8","cornerRadius":4},"encoding":{"x2":{"field":"date2"},"y2":{"field":"value2"}}},
{"data":{"values":[{"date":"2022-11-25","value":272000,"label":"Reset zoom"}]},"mark":{"type":"text","font":"Inter","fontSize":13,"align":"center","baseline":"middle","color":"#555555"},"encoding":{"text":{"field":"label"}}},
{"data":{"values":[{"date":"2017-08-21","value":25.9,"label":"© 2022 Glassnode. All Rights Reserved."}]},"mark":{"type":"text","font":"Inter","fontSize":15.2,"align":"left","baseline":"middle","color":"#999999"},"encoding":{"text":{"field":"label"}}},
{"data":{"values":[{"date":"2023-02-05","value":25.9,"label":"Glassnode"}]},"mark":{"type":"text","font":"Inter","fontSize":15.2,"align":"right","baseline":"middle","color":"#999999"},"encoding":{"text":{"field":"label"}}}
]}
],
"resolve":{"scale":{"y":"independent"}}
}
